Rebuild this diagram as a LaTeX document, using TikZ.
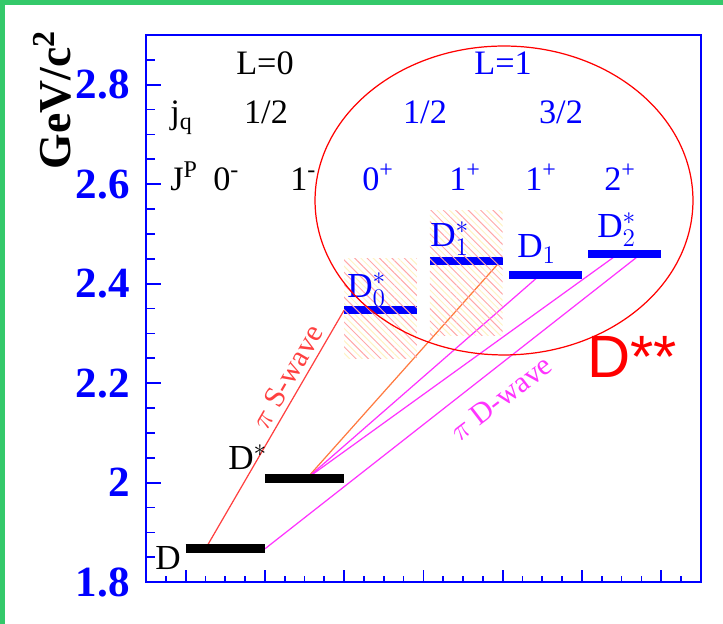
\documentclass[tikz,border=0pt]{standalone}
\usepackage{fontspec}
\setmainfont{Liberation Serif}
\newfontfamily\arialfont{Liberation Sans}
\usepackage{xcolor}
\usepackage{tikz}
\usetikzlibrary{calc,positioning,patterns.meta}
\definecolor{FrameGreen}{HTML}{34C96A}
\definecolor{PlotBlue}{HTML}{0000FF}
\definecolor{SwaveRed}{HTML}{FF4040}
\definecolor{PwaveOrange}{HTML}{FF7A40}
\definecolor{DwaveMagenta}{HTML}{FF33FF}
\definecolor{HatchRed}{HTML}{FFA8A8}
\definecolor{HatchYellow}{HTML}{FFF3C4}

\tikzset{
  axisline/.style={PlotBlue,line width=1.1pt},
  blackbar/.style={black,line width=5.1pt},
  bluebar/.style={PlotBlue,line width=4.6pt},
  swave/.style={SwaveRed,line width=0.7pt},
  pwave/.style={PwaveOrange,line width=0.7pt},
  dwave/.style={DwaveMagenta,line width=0.7pt},
  hdr/.style={font=\fontsize{19.5}{19.5}\selectfont,inner sep=0pt},
  lvl/.style={font=\fontsize{20}{20}\selectfont,inner sep=0pt,anchor=base west},
  ticklab/.style={font=\bfseries\fontsize{24.5}{24.5}\selectfont,text=PlotBlue,anchor=east,inner sep=0pt,xshift=-0.32cm},
  wavelab/.style={font=\fontsize{17}{17}\selectfont,inner sep=0pt},
}

\begin{document}
\begin{tikzpicture}[x=0.02cm,y=0.02cm]
  \useasboundingbox (0,0) rectangle (723,624);
  \fill[FrameGreen] (0,619) rectangle (723,624);
  \fill[FrameGreen] (0,0) rectangle (4.5,624);

  \node[font=\bfseries\fontsize{26}{26}\selectfont,rotate=90,inner sep=0pt] (unit) at (52,524) {GeV/c\textsuperscript{2}};

  \begin{scope}[shift={(146,-853.5)},x=0.3964cm,y=9.95cm]
    \coordinate (D-l) at (2,1.867);
    \coordinate (D-r) at (6,1.867);
    \coordinate (D-src) at (3,1.867);
    \coordinate (Dst-l) at (6,2.008);
    \coordinate (Dst-r) at (10,2.008);
    \coordinate (Dst-src) at (8.1,2.008);
    \coordinate (D0-l) at (10,2.347);
    \coordinate (D0-r) at (13.67,2.347);
    \coordinate (D1st-l) at (14.33,2.446);
    \coordinate (D1st-r) at (18,2.446);
    \coordinate (D1st-end) at (17.9,2.446);
    \coordinate (D1-l) at (18.33,2.418);
    \coordinate (D1-r) at (22,2.418);
    \coordinate (D1-end) at (19.9,2.418);
    \coordinate (D2-l) at (22.33,2.459);
    \coordinate (D2-r) at (26,2.459);
    \coordinate (D2-endA) at (23.8,2.459);
    \coordinate (D2-endB) at (24.95,2.459);

    \foreach \lo/\hi/\a/\b in {10/13.67/2.250/2.451, 14.33/18/2.296/2.548}{
      \fill[pattern={Lines[angle=-45,distance=5pt,xshift=3.5pt,line width=0.55pt]},pattern color=HatchYellow] (\lo,\a) rectangle (\hi,\b);
    }

    \draw[swave] (D-src) -- (D0-l);
    \draw[pwave] (Dst-src) -- (D1st-end);
    \draw[dwave] (Dst-src) -- (D1-end);
    \draw[dwave] (Dst-src) -- (D2-endA);
    \draw[dwave] (D-r) -- (D2-endB);

    \draw[blackbar] (D-l) -- (D-r);
    \draw[blackbar] (Dst-l) -- (Dst-r);
    \draw[bluebar] (D0-l) -- (D0-r);
    \draw[bluebar] (D1st-l) -- (D1st-r);
    \draw[bluebar] (D1-l) -- (D1-r);
    \draw[bluebar] (D2-l) -- (D2-r);

    \foreach \lo/\hi/\a/\b in {10/13.67/2.250/2.451, 14.33/18/2.296/2.548}{
      \fill[pattern={Lines[angle=-45,distance=5pt,line width=0.55pt]},pattern color=HatchRed] (\lo,\a) rectangle (\hi,\b);
    }

    \draw[axisline] (0,1.8) rectangle (28,2.9);
    \foreach \k in {1,...,21}{
      \pgfmathsetmacro\tlen{mod(\k,4)==0 ? 0.76 : 0.43}
      \draw[axisline,line width=1pt] (0,{1.8+0.05*\k}) -- ++(\tlen,0);
    }
    \foreach \u in {1,...,27}{
      \pgfmathsetmacro\tlen{mod(\u,4)==2 ? 0.024 : 0.013}
      \draw[axisline,line width=1pt] (\u,1.8) -- ++(0,\tlen);
    }
    \foreach \m/\t in {1.8/18,2/20,2.2/22,2.4/24,2.6/26,2.8/28}
      \node[ticklab] (tick\t) at (0,\m) {\m};
  \end{scope}

  \node[hdr,anchor=base] (L0) at (265,549) {L=0};
  \node[hdr,anchor=base,text=PlotBlue] (L1) at (503,549) {L=1};
  \node[hdr,anchor=base west] (jq) at (170,500) {$\mathrm{j}_{\mathrm{q}}$};
  \node[hdr,anchor=base] (jlow) at (266,500) {1/2};
  \node[hdr,anchor=base,text=PlotBlue] (jhighA) at (425,500) {1/2};
  \node[hdr,anchor=base,text=PlotBlue] (jhighB) at (561,500) {3/2};
  \node[hdr,anchor=base west] (JP) at (170,433) {J\textsuperscript{P}};
  \node[hdr,anchor=base west] (jpA) at (213,433) {0\textsuperscript{-}};
  \node[hdr,anchor=base west] (jpB) at (290,433) {1\textsuperscript{-}};
  \node[hdr,anchor=base west,text=PlotBlue] (jpC) at (362,433) {0\textsuperscript{+}};
  \node[hdr,anchor=base west,text=PlotBlue] (jpD) at (449,433) {1\textsuperscript{+}};
  \node[hdr,anchor=base west,text=PlotBlue] (jpE) at (525,433) {1\textsuperscript{+}};
  \node[hdr,anchor=base west,text=PlotBlue] (jpF) at (604,433) {2\textsuperscript{+}};

  \node[lvl] (labD) at (155,54) {D};
  \node[lvl] (labDst) at (228,154) {D$^{*}$};
  \node[lvl,text=PlotBlue] (labD0) at (347,326) {D$^{*}_{0}$};
  \node[lvl,text=PlotBlue] (labD1st) at (430,377) {D$^{*}_{1}$};
  \node[lvl,text=PlotBlue] (labD1) at (517,366) {D$_{1}$};
  \node[lvl,text=PlotBlue] (labD2) at (597,386) {D$^{*}_{2}$};

  \node[wavelab,text=SwaveRed,rotate=59.8] (swavelab) at (287,247) {$\pi$ S-wave};
  \node[wavelab,text=DwaveMagenta,rotate=37.5] (dwavelab) at (501,226) {$\pi$ D-wave};

  \node[font=\arialfont\fontsize{34}{34}\selectfont,text=red,inner sep=0pt] (Dss) at (632,267) {D**};
  \draw[red,line width=0.7pt] (504,423.5) ellipse [x radius=3.78cm,y radius=3.09cm];
\end{tikzpicture}
\end{document}
